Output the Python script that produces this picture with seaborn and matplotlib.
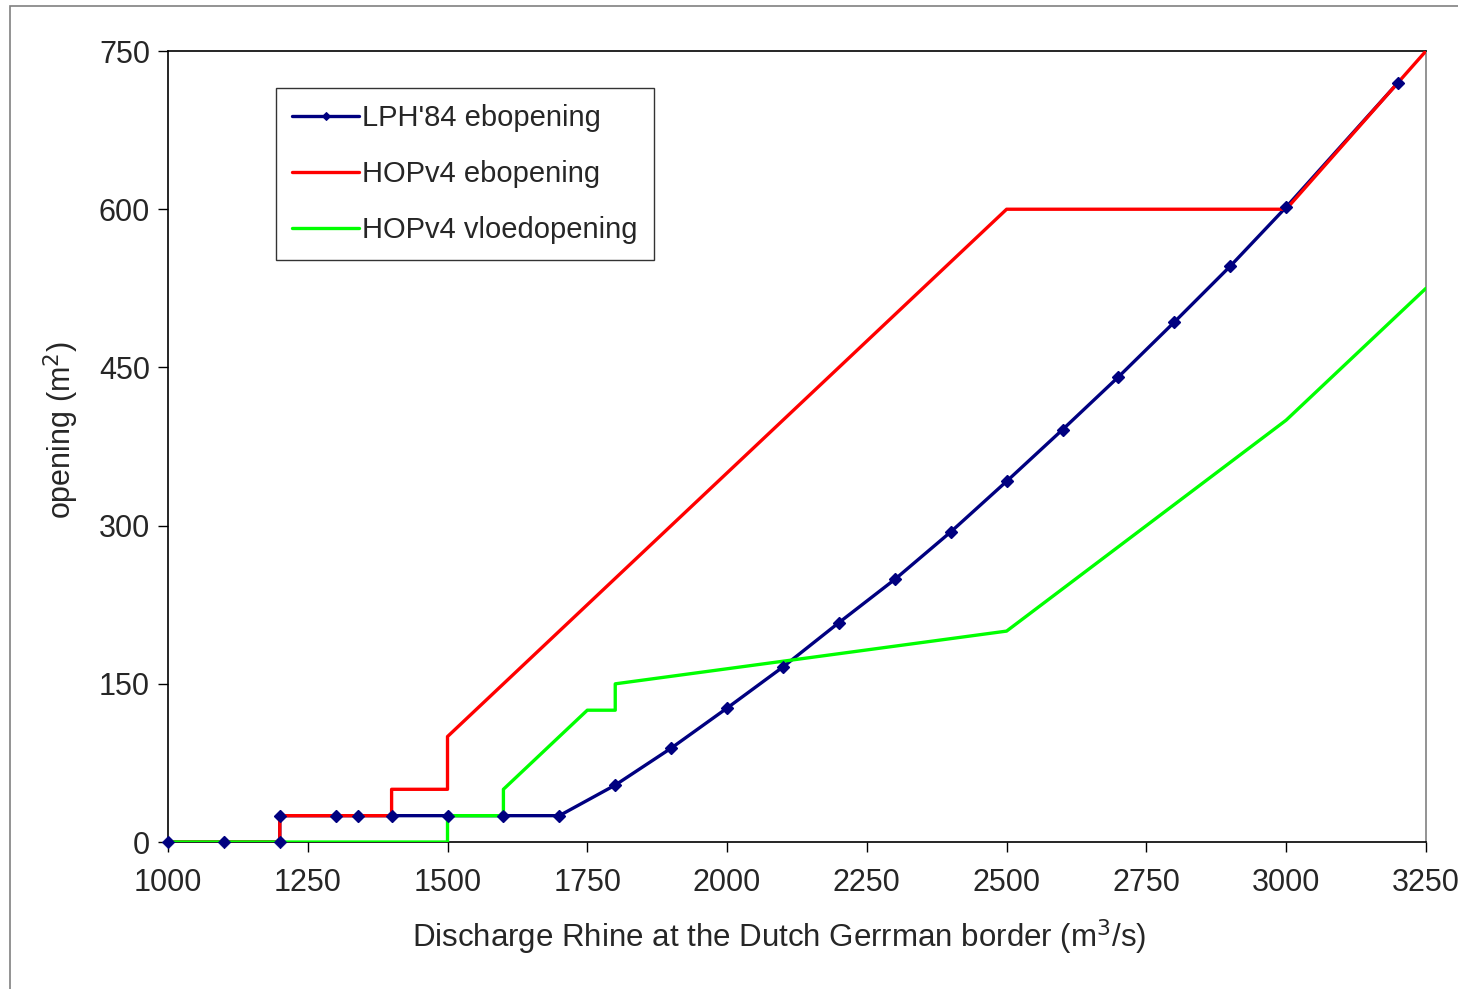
import matplotlib
matplotlib.use("Agg")
import matplotlib.pyplot as plt
import seaborn as sns
import pandas as pd
from matplotlib.patches import Rectangle

# LPH'84 ebopening (with markers)
lph_x = [1000, 1100, 1200, 1200, 1300, 1340, 1400, 1500, 1600, 1700, 1800, 1900,
         2000, 2100, 2200, 2300, 2400, 2500, 2600, 2700, 2800, 2900, 3000, 3200]
lph_y = [0, 0, 0, 25, 25, 25, 25, 25, 25, 25, 54, 89,
         127, 166, 208, 249, 294, 342, 391, 441, 493, 546, 602, 720]

# HOPv4 ebopening
eb_x = [1000, 1200, 1200, 1400, 1400, 1500, 1500, 2500, 3000, 3250]
eb_y = [0, 0, 25, 25, 50, 50, 100, 600, 600, 750]

# HOPv4 vloedopening
vl_x = [1000, 1500, 1500, 1600, 1600, 1750, 1800, 1800, 2500, 3000, 3250]
vl_y = [0, 0, 25, 25, 50, 125, 125, 150, 200, 400, 525]

x_ticks = [1000, 1250, 1500, 1750, 2000, 2250, 2500, 2750, 3000, 3250]
y_ticks = [0, 150, 300, 450, 600, 750]

sns.set_style("white")
plt.rcParams["font.family"] = ["Liberation Sans", "DejaVu Sans"]

fig = plt.figure(figsize=(14.58, 9.89), dpi=100)
ax = fig.add_axes([0.1152, 0.1486, 0.8628, 0.7998])

df_vl = pd.DataFrame({"x": vl_x, "y": vl_y})
df_eb = pd.DataFrame({"x": eb_x, "y": eb_y})
df_lph = pd.DataFrame({"x": lph_x, "y": lph_y})

sns.lineplot(data=df_lph, x="x", y="y", ax=ax, estimator=None, sort=False,
             color="#000080", lw=2.4, marker="D", markersize=6,
             markeredgecolor="#000080", label="LPH'84 ebopening", zorder=2)
sns.lineplot(data=df_eb, x="x", y="y", ax=ax, estimator=None, sort=False,
             color="#ff0000", lw=2.4, label="HOPv4 ebopening", zorder=3)
sns.lineplot(data=df_vl, x="x", y="y", ax=ax, estimator=None, sort=False,
             color="#00ff00", lw=2.4, label="HOPv4 vloedopening", zorder=3)
# blue markers sit on top of the other lines
sns.scatterplot(data=df_lph, x="x", y="y", ax=ax, marker="D", s=40,
                color="#000080", edgecolor="#000080", zorder=4,
                clip_on=False, legend=False)

ax.set_xlim(1000, 3250)
ax.set_ylim(0, 750)
ax.set_xticks(x_ticks)
ax.set_yticks(y_ticks)
ax.tick_params(axis="both", labelsize=22, direction="out", length=7, width=1,
               color="black", left=True, bottom=True)
ax.tick_params(axis="x", pad=12)
ax.tick_params(axis="y", pad=6)
for s in ["left", "bottom", "top"]:
    ax.spines[s].set_color("black")
    ax.spines[s].set_linewidth(1.2)
ax.spines["right"].set_color("#808080")
ax.spines["right"].set_linewidth(1.2)

ax.set_xlabel("Discharge Rhine at the Dutch Gerrman border (m$^3$/s)", fontsize=22.5)
ax.set_ylabel("opening (m$^2$)", fontsize=22)
ax.xaxis.set_label_coords(0.486, -0.095)
ax.yaxis.set_label_coords(-0.069, 0.521)

leg = ax.legend(loc="upper left", bbox_to_anchor=(0.0859, 0.9535), fontsize=21,
                frameon=True, fancybox=False, edgecolor="black",
                handlelength=2.3, handletextpad=0.1, labelspacing=0.97,
                borderpad=0.55, borderaxespad=0)
leg.get_frame().set_linewidth(1.0)
for h in leg.legend_handles:
    h.set_markersize(4)

fig.patches.append(Rectangle((10 / 1458, -0.05), 1.1, 1 - 6 / 989 + 0.05,
                             transform=fig.transFigure, fill=False,
                             edgecolor="#808080", lw=1.2))

fig.savefig("out.png", dpi=100)
